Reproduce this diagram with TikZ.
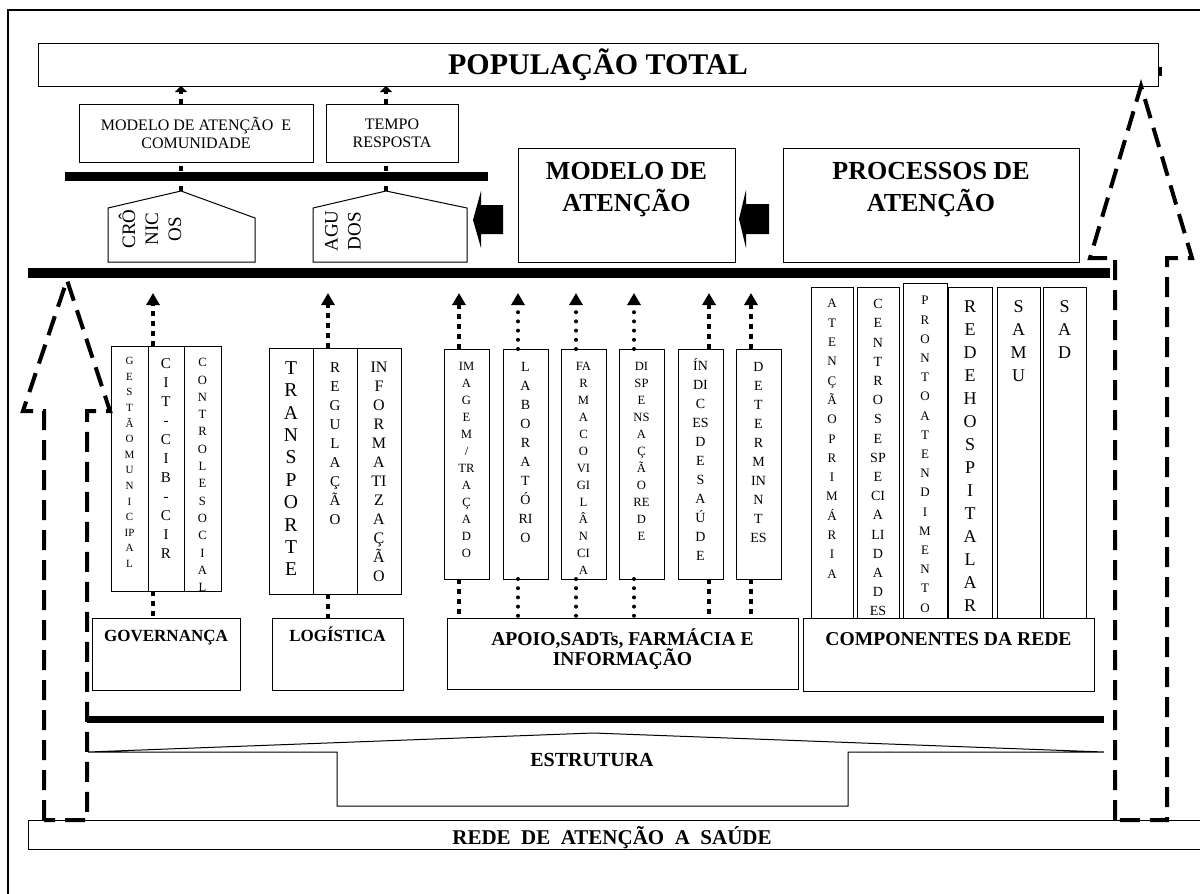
\documentclass[tikz,border=0pt]{standalone}
\usepackage{fontspec}
\setmainfont{Liberation Serif}
\usetikzlibrary{arrows.meta, positioning}

\begin{document}
\begin{tikzpicture}[
        x=0.5pt, y=-0.5pt,
        box/.style={rectangle, draw, line width=0.5pt, inner sep=0pt, outer sep=0pt},
        pillar/.style={box, anchor=north west},
        bar/.style={rectangle, fill=black, inner sep=0pt, outer sep=0pt, anchor=north west},
        stack/.style={anchor=north, align=center, inner sep=0pt},
        sqdots/.style={line width=2pt, dash pattern=on 2.5pt off 2.5pt},
        rddots/.style={line width=2pt, line cap=round, dash pattern=on 0pt off 4.6pt},
        tip/.style={-{Triangle[length=6pt, width=6.5pt]}, shorten >=7.5pt},
        hollow/.style={line width=2pt, dash pattern=on 10pt off 5pt}
    ]
    \useasboundingbox (0,0) rectangle (1200,894);
    \draw[line width=1pt] (8,900) -- (8,10) -- (1210,10);

    \node[box, anchor=north west, minimum width=560pt, minimum height=21.5pt, font=\rmfamily\bfseries\fontsize{15}{18}\selectfont] (populacao) at (38,43) {POPULAÇÃO TOTAL};
    \fill (1158,67) rectangle (1162,76);
    \node[box, minimum width=117pt, minimum height=29pt, align=center, font=\fontsize{8}{9}\selectfont] (comunidade) at (196,133) {MODELO DE ATENÇÃO\ \ E\\COMUNIDADE};
    \node[box, minimum width=66pt, minimum height=29pt, align=center, font=\fontsize{8}{9}\selectfont] (tempo) at (392,133) {TEMPO\\RESPOSTA};

    \coordinate (cronicos_top) at (181,191);
    \coordinate (agudos_top) at (386,191);
    \draw[line width=0.5pt] (108,262) -- (108,208) -- (cronicos_top) -- (255,218) -- (255,262) -- cycle;
    \draw[line width=0.5pt] (313,262) -- (313,208) -- (agudos_top) -- (467,208) -- (467,262) -- cycle;
    \node[rotate=90, align=center, inner sep=0pt, font=\fontsize{9.5}{11.5}\selectfont] (cronicos) at (150,229) {CRÔ\\NIC\\OS};
    \node[rotate=90, align=center, inner sep=0pt, font=\fontsize{9.5}{11.5}\selectfont] (agudos) at (343,231) {AGU\\DOS};
    \draw[sqdots] (cronicos_top) -- (cronicos_top |- comunidade.south);
    \draw[sqdots] (agudos_top) -- (agudos_top |- tempo.south);
    \draw[sqdots, -{Triangle[length=3pt, width=6pt]}] (cronicos_top |- comunidade.north) -- (cronicos_top |- populacao.south);
    \draw[sqdots, -{Triangle[length=3pt, width=6pt]}] (agudos_top |- tempo.north) -- (agudos_top |- populacao.south);
    \node[bar, minimum width=211.5pt, minimum height=4.5pt] (divisor) at (65,172) {};

    \node[box, anchor=north west, minimum width=108.5pt, minimum height=57pt] (modelo) at (518,148) {};
    \node[stack, font=\bfseries\fontsize{13}{16}\selectfont, below=7pt of modelo.north] (modelo_txt) {MODELO DE\\ATENÇÃO};
    \node[box, anchor=north west, minimum width=148pt, minimum height=57pt] (processos) at (783,148) {};
    \node[stack, font=\bfseries\fontsize{13}{16}\selectfont, below=7pt of processos.north] (processos_txt) {PROCESSOS DE\\ATENÇÃO};
    \fill (503,205) -- (481,205) -- (481,191) -- (473,220) -- (481,248) -- (481,234) -- (503,234) -- cycle;
    \fill (769,204) -- (746,204) -- (746,190) -- (739,219) -- (746,248) -- (746,234) -- (769,234) -- cycle;

    \node[bar, minimum width=541pt, minimum height=5pt] (trunk) at (28,268) {};

    \node[pillar, minimum width=18.5pt, minimum height=122.5pt] (gestao) at (111,346) {};
    \node[pillar, minimum width=18pt, minimum height=122.5pt, right=0pt of gestao] (cit) {};
    \node[pillar, minimum width=18.5pt, minimum height=122.5pt, right=0pt of cit] (controle) {};
    \node[stack, font=\fontsize{5.5}{7.8}\selectfont, below=5.5pt of gestao.north] (gestao_txt) {G\\E\\S\\T\\Ã\\O\\M\\U\\N\\I\\C\\IP\\A\\L};
    \node[stack, font=\fontsize{7.5}{9.5}\selectfont, below=6pt of cit.north] (cit_txt) {C\\I\\T\\-\\C\\I\\B\\-\\C\\I\\R};
    \node[stack, font=\fontsize{6.3}{8.65}\selectfont, below=6pt of controle.north] (controle_txt) {C\\O\\N\\T\\R\\O\\L\\E\\S\\O\\C\\I\\A\\L};

    \node[pillar, minimum width=22pt, minimum height=123pt] (transporte) at (269,348) {};
    \node[pillar, minimum width=22pt, minimum height=123pt, right=0pt of transporte] (regulacao) {};
    \node[pillar, minimum width=22pt, minimum height=123pt, right=0pt of regulacao] (informatizacao) {};
    \node[stack, font=\fontsize{9.8}{11.2}\selectfont, below=6.5pt of transporte.north] (transporte_txt) {T\\R\\A\\N\\S\\P\\O\\R\\T\\E};
    \node[stack, font=\fontsize{7.5}{9.5}\selectfont, below=7pt of regulacao.north] (regulacao_txt) {R\\E\\G\\U\\L\\A\\Ç\\Ã\\O};
    \node[stack, font=\fontsize{8}{9.5}\selectfont, below=7pt of informatizacao.north] (informatizacao_txt) {IN\\F\\O\\R\\M\\A\\TI\\Z\\A\\Ç\\Ã\\O};

    \node[pillar, minimum width=22.5pt, minimum height=115pt] (imagem) at (444,349) {};
    \node[pillar, minimum width=22.5pt, minimum height=115pt, right=7pt of imagem] (laboratorio) {};
    \node[pillar, minimum width=22.5pt, minimum height=115pt, right=6.5pt of laboratorio] (farmaco) {};
    \node[pillar, minimum width=22.5pt, minimum height=115pt, right=6.5pt of farmaco] (dispensacao) {};
    \node[pillar, minimum width=22.5pt, minimum height=115pt, right=7pt of dispensacao] (indices) {};
    \node[pillar, minimum width=22.5pt, minimum height=115pt, right=6.5pt of indices] (determinantes) {};
    \node[stack, font=\fontsize{6.3}{8.5}\selectfont, below=6.5pt of imagem.north] (imagem_txt) {IM\\A\\G\\E\\M\\/\\TR\\A\\Ç\\A\\D\\O};
    \node[stack, font=\fontsize{7}{9.5}\selectfont, below=6.5pt of laboratorio.north] (laboratorio_txt) {L\\A\\B\\O\\R\\A\\T\\Ó\\RI\\O};
    \node[stack, font=\fontsize{6.3}{8.5}\selectfont, below=6.5pt of farmaco.north] (farmaco_txt) {FA\\R\\M\\A\\C\\O\\VI\\GI\\L\\Â\\N\\CI\\A};
    \node[stack, font=\fontsize{6.3}{8.5}\selectfont, below=6.5pt of dispensacao.north] (dispensacao_txt) {DI\\SP\\E\\NS\\A\\Ç\\Ã\\O\\RE\\D\\E};
    \node[stack, font=\fontsize{7}{9.5}\selectfont, below=4.5pt of indices.north] (indices_txt) {ÍN\\DI\\C\\ES\\D\\E\\S\\A\\Ú\\D\\E};
    \node[stack, font=\fontsize{7}{9.5}\selectfont, below=6.5pt of determinantes.north] (determinantes_txt) {D\\E\\T\\E\\R\\M\\IN\\N\\T\\ES};

    \node[pillar, minimum width=21pt, minimum height=165.5pt] (atencao) at (811,287) {};
    \node[pillar, minimum width=21pt, minimum height=165.5pt] (centros) at (857,287) {};
    \node[pillar, minimum width=22pt, minimum height=167.5pt] (pronto) at (903,283) {};
    \node[pillar, minimum width=22pt, minimum height=165.5pt] (hospitalar) at (948,287) {};
    \node[pillar, minimum width=21.5pt, minimum height=165.5pt] (samu) at (997,287) {};
    \node[pillar, minimum width=21.5pt, minimum height=165.5pt] (sad) at (1043,287) {};
    \node[stack, font=\fontsize{6.5}{9.65}\selectfont, below=6pt of atencao.north] (atencao_txt) {A\\T\\E\\N\\Ç\\Ã\\O\\P\\R\\I\\M\\Á\\R\\I\\A};
    \node[stack, font=\fontsize{7}{9.6}\selectfont, below=6pt of centros.north] (centros_txt) {C\\E\\N\\T\\R\\O\\S\\E\\SP\\E\\CI\\A\\LI\\D\\A\\D\\ES};
    \node[stack, font=\fontsize{6.5}{9.6}\selectfont, below=6.5pt of pronto.north] (pronto_txt) {P\\R\\O\\N\\T\\O\\A\\T\\E\\N\\D\\I\\M\\E\\N\\T\\O};
    \node[stack, font=\fontsize{9}{11.5}\selectfont, below=6.5pt of hospitalar.north] (hospitalar_txt) {R\\E\\D\\E\\H\\O\\S\\P\\I\\T\\A\\L\\A\\R};
    \node[stack, font=\fontsize{9}{11.5}\selectfont, below=6.5pt of samu.north] (samu_txt) {S\\A\\M\\U};
    \node[stack, font=\fontsize{9}{11.5}\selectfont, below=6.5pt of sad.north] (sad_txt) {S\\A\\D};

    \node[pillar, minimum width=74pt, minimum height=36pt] (governanca) at (92,618) {};
    \node[stack, font=\bfseries\fontsize{8.5}{10}\selectfont, below=6pt of governanca.north] (governanca_txt) {GOVERNANÇA};
    \node[pillar, minimum width=65.5pt, minimum height=36pt] (logistica) at (272,618) {};
    \node[stack, font=\bfseries\fontsize{8.5}{10}\selectfont, below=4.5pt of logistica.north] (logistica_txt) {LOGÍSTICA};
    \node[pillar, minimum width=175.5pt, minimum height=35.5pt] (apoio) at (447,618) {};
    \node[stack, font=\bfseries\fontsize{9.8}{10.2}\selectfont, below=5pt of apoio.north] (apoio_txt) {APOIO,SADTs, FARMÁCIA E\\INFORMAÇÃO};
    \node[pillar, minimum width=145.5pt, minimum height=36.5pt] (componentes) at (803,618) {};
    \node[stack, font=\bfseries\fontsize{9.8}{10.2}\selectfont, below=7pt of componentes.north] (componentes_txt) {COMPONENTES DA REDE};

    \coordinate (gov_up) at ([xshift=-6.5pt]cit.north);
    \coordinate (gov_down) at ([xshift=-6.5pt]cit.south);
    \coordinate (log_up) at ([xshift=-3.5pt]regulacao.north);
    \coordinate (log_down) at ([xshift=-3.5pt]regulacao.south);
    \draw[sqdots, tip] (gov_up) -- (gov_up |- trunk.south);
    \draw[sqdots] (gov_down) -- (gov_down |- governanca.north);
    \draw[sqdots, tip] (log_up) -- (log_up |- trunk.south);
    \draw[sqdots] (log_down) -- (log_down |- logistica.north);

    \draw[sqdots, tip] ([xshift=-3.75pt]imagem.north) -- ([xshift=-3.75pt]imagem.north |- trunk.south);
    \draw[sqdots] ([xshift=-3.75pt]imagem.south) -- ([xshift=-3.75pt]imagem.south |- apoio.north);
    \draw[rddots, tip] ([xshift=-3.75pt]laboratorio.north) -- ([xshift=-3.75pt]laboratorio.north |- trunk.south);
    \draw[rddots] ([xshift=-3.75pt]laboratorio.south) -- ([xshift=-3.75pt]laboratorio.south |- apoio.north);
    \draw[rddots, tip] ([xshift=-3.75pt]farmaco.north) -- ([xshift=-3.75pt]farmaco.north |- trunk.south);
    \draw[rddots] ([xshift=-3.75pt]farmaco.south) -- ([xshift=-3.75pt]farmaco.south |- apoio.north);
    \draw[rddots, tip] ([xshift=-3.75pt]dispensacao.north) -- ([xshift=-3.75pt]dispensacao.north |- trunk.south);
    \draw[rddots] ([xshift=-3.75pt]dispensacao.south) -- ([xshift=-3.75pt]dispensacao.south |- apoio.north);
    \draw[sqdots, tip] ([xshift=4.25pt]indices.north) -- ([xshift=4.25pt]indices.north |- trunk.south);
    \draw[sqdots] ([xshift=4.25pt]indices.south) -- ([xshift=4.25pt]indices.south |- apoio.north);
    \draw[sqdots, tip] ([xshift=-3.75pt]determinantes.north) -- ([xshift=-3.75pt]determinantes.north |- trunk.south);
    \draw[sqdots] ([xshift=-3.75pt]determinantes.south) -- ([xshift=-3.75pt]determinantes.south |- apoio.north);

    \node[bar, minimum width=508.5pt, minimum height=3.5pt] (base) at (87,716) {};
    \draw[line width=0.5pt] (88,752) -- (593,733) -- (1104,752) -- (848,752) -- (848,806) -- (337,806) -- (337,752) -- cycle;
    \node[font=\bfseries\fontsize{10}{12}\selectfont] (estrutura) at (592,760) {ESTRUTURA};

    \node[pillar, minimum width=591pt, minimum height=14.5pt] (rede) at (28,820) {};
    \node[font=\bfseries\fontsize{10.5}{12}\selectfont] (rede_txt) at (612,838) {REDE\ \ DE\ \ ATENÇÃO\ \ A\ \ SAÚDE};

    \draw[hollow] (44,820) -- (44,411) -- (23,411) -- (67,280) -- (110,411) -- (87,411) -- (87,820) -- cycle;
    \draw[hollow] (1115,820) -- (1115,258) -- (1090,258) -- (1141,86) -- (1192,258) -- (1167,258) -- (1167,820) -- cycle;
\end{tikzpicture}
\end{document}
